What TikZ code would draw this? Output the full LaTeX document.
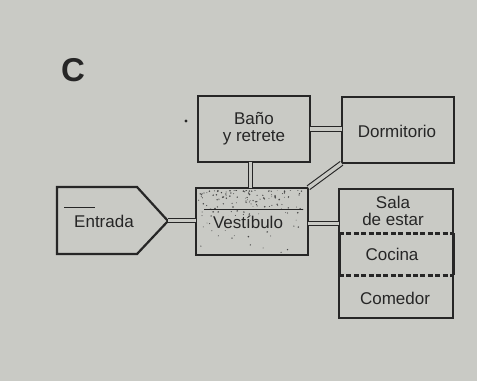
\documentclass[tikz,border=0pt]{standalone}
\usepackage{fontspec}
\setmainfont{Liberation Sans}
\usetikzlibrary{calc}
\definecolor{paper}{RGB}{201,202,197}
\definecolor{ink}{RGB}{38,38,38}
\begin{document}
\begin{tikzpicture}[x=1pt,y=-1pt,
  room/.style={draw=ink, line width=2.2pt, fill=paper},
  label/.style={text=ink, font=\fontsize{17}{18}\selectfont, align=center, inner sep=0pt},
  link/.style={draw=ink, line width=1.1pt, double=paper, double distance=3.4pt},
  speck/.style={fill=ink!85}]
  % sheet
  \fill[paper] (0,0) rectangle (477,381);
  \useasboundingbox (0,0) rectangle (477,381);

  % heading letter
  \node[text=ink, font=\bfseries\fontsize{33}{33}\selectfont, inner sep=0pt] (title) at (73,70) {C};
  \fill[ink] (186,121) circle (1.6);

  % rooms
  \draw[room] (198,96) rectangle (310,162);
  \node[label] (bano) at (254,129) {Baño\\[-1pt]y retrete};
  \coordinate (banoS) at (250.5,162);
  \coordinate (banoE) at (310,129);

  \draw[room] (342,97) rectangle (454,163);
  \node[label] (dorm) at (397,131) {Dormitorio};
  \coordinate (dormW) at (342,129);
  \coordinate (dormSW) at (342,163);

  % entrance pointer
  \draw[room, line join=miter] (57,187) -- (137,187) -- (168,221) -- (137,254) -- (57,254) -- cycle;
  \coordinate (entTip) at (168,220.5);
  \node[label] (entrada) at (104,221) {Entrada};
  \draw[ink, line width=0.7pt] (64,207) -- (95,207);

  % hall, stippled mostly along its upper half
  \draw[room] (196,188) rectangle (308,255);
  \begin{scope}
    \clip (198,190) rectangle (306,253);
    \pgfmathsetseed{41}
    \foreach \i in {1,...,150}{
      \pgfmathsetmacro\px{198+108*rnd}
      \pgfmathsetmacro\py{190+63*rnd*rnd}
      \pgfmathsetmacro\pr{0.4+0.5*rnd}
      \fill[speck] (\px,\py) circle (\pr);
    }
  \end{scope}
  \draw[ink, line width=0.8pt] (204,209) -- (303,209);
  \node[label, fill=paper, inner xsep=1pt] (vest) at (248,222) {Vestíbulo};
  \coordinate (vestN) at (250.5,188);
  \coordinate (vestW) at (196,220.5);
  \coordinate (vestE) at (308,223.5);
  \coordinate (vestNE) at (308,188);

  % living / kitchen / dining block
  \draw[room] (339,189) rectangle (453,318);
  \draw[ink, line width=3pt] (339,233) -- (339,275) (453,233) -- (453,275);
  \draw[ink, line width=3pt, dash pattern=on 5pt off 2.4pt] (339,233) -- (453,233);
  \draw[ink, line width=3pt, dash pattern=on 5pt off 2.4pt] (339,275) -- (453,275);
  \node[label] (sala) at (393,211) {Sala\\[-1pt]de estar};
  \node[label] (cocina) at (392,254) {Cocina};
  \node[label] (comedor) at (395,298) {Comedor};
  \coordinate (salaW) at (339,223.5);

  % doorways
  \draw[link] (banoE) -- (dormW);
  \draw[link] (banoS) -- (vestN);
  \draw[link] (entTip) -- (vestW);
  \draw[link] (vestE) -- (salaW);
  \draw[link, shorten <=0.5pt, shorten >=0.5pt] (dormSW) -- (vestNE);
\end{tikzpicture}
\end{document}
